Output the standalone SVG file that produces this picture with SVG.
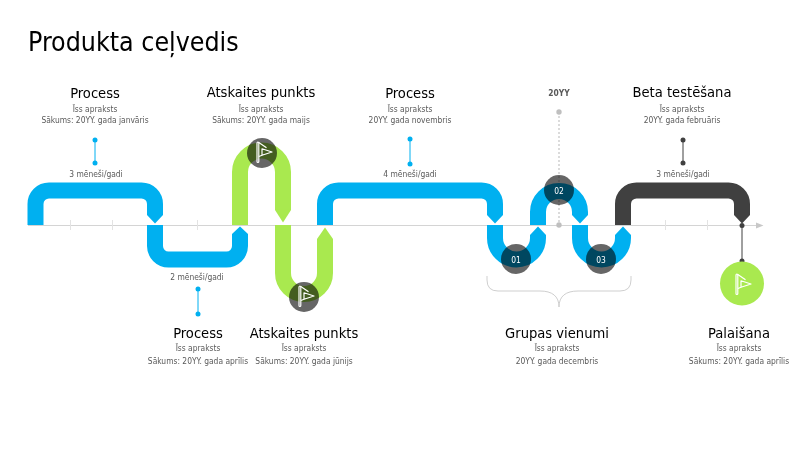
<svg xmlns="http://www.w3.org/2000/svg" width="796" height="450" viewBox="0 0 796 450">
<style>
text{font-family:"DejaVu Sans Condensed","DejaVu Sans",sans-serif;font-stretch:condensed;text-anchor:middle;fill:#595959;font-size:8.400px}
.t{fill:#000;font-size:26.500px;text-anchor:start}
.h{fill:#000;font-size:14.600px}
.y{font-weight:bold}
.n{fill:#fff;font-size:8.400px}
.r{fill:none;stroke-width:16}
.b{stroke:#00b0f0}.g{stroke:#a9e94f}.d{stroke:#404040}
.fb{fill:#00b0f0}.fg{fill:#a9e94f}.fd{fill:#404040}
.c{fill:#666;mix-blend-mode:multiply}
.f{fill:none;stroke:#fff;stroke-width:1.200;stroke-linejoin:round}
.tk{stroke:#e3e3e3;stroke-width:1}
</style>
<defs>
<g id="flag"><rect x="-5" y="-10" width="1.800" height="20.500" rx=".9" class="f"/><path class="f" d="M-3.200-9.500 4.500-4.200M-3.200 4.500 1.500 2.700M0-3.200 10 0 0 3.200Z"/></g>
</defs>
<rect width="796" height="450" fill="#fff"/>
<text class="t" x="28" y="51">Produkta ceļvedis</text>
<g id="connectors">
<path d="M28 225.500H756" stroke="#d4d4d4" stroke-width="1.200" fill="none"/>
<path d="M756 222.500 763.500 225.500 756 228.500Z" fill="#c8c8c8"/>
<path class="tk" d="M70.500 220V230M112.500 220V230M197.500 220V230M665.500 220V230M707.500 220V230"/>
<path d="M559 112V225" stroke="#d0d0d0" stroke-width="1.500" stroke-dasharray="2 2" fill="none"/>
<circle cx="559" cy="112" r="2.700" fill="#bfbfbf"/><circle cx="559" cy="225" r="2.700" fill="#bfbfbf"/>
<path d="M95 140V163" stroke="#00b0f0"/><circle cx="95" cy="140" r="2.500" fill="#00b0f0"/><circle cx="95" cy="163" r="2.500" fill="#00b0f0"/>
<path d="M198 289V314" stroke="#00b0f0"/><circle cx="198" cy="289" r="2.500" fill="#00b0f0"/><circle cx="198" cy="314" r="2.500" fill="#00b0f0"/>
<path d="M410 139V164" stroke="#00b0f0"/><circle cx="410" cy="139" r="2.500" fill="#00b0f0"/><circle cx="410" cy="164" r="2.500" fill="#00b0f0"/>
<path d="M683 140V163" stroke="#404040"/><circle cx="683" cy="140" r="2.500" fill="#404040"/><circle cx="683" cy="163" r="2.500" fill="#404040"/>
<path d="M487 276V280Q487 291 498 291H540C552 291 559 296 559 307C559 296 566 291 578 291H620Q631 291 631 280V276" fill="none" stroke="#cfcfcf"/>
</g>
<g id="ribbons">
<path class="r b" d="M35.500 225V204A13.500 13.500 0 0 1 49 190.500H141.500A13.500 13.500 0 0 1 155 204V215"/><path class="fb" d="M147 214.500H163V215L155 223.500 147 215Z"/>
<path class="r b" d="M155 225V246A13.500 13.500 0 0 0 168.500 259.500H226.500A13.500 13.500 0 0 0 240 246V234"/><path class="fb" d="M232 235H248V234L240 226.500 232 234Z"/>
<path class="r g" d="M240 225V172A21.500 21.500 0 0 1 283 172V210"/><path class="fg" d="M275 209.500H291V210L283 222.500 275 210Z"/>
<path class="r g" d="M283 225V273A21 21 0 0 0 325 273V239"/><path class="fg" d="M317 240H333V239L325 227.500 317 239Z"/>
<path class="r b" d="M325 225V204A13.500 13.500 0 0 1 338.500 190.500H481.500A13.500 13.500 0 0 1 495 204V215"/><path class="fb" d="M487 214.500H503V215L495 223.500 487 215Z"/>
<path class="r b" d="M495 225V238A21.500 21.500 0 0 0 538 238V235"/><path class="fb" d="M530 235.500H546V235L538 226.500 530 235Z"/>
<path class="r b" d="M538 225V212A21 21 0 0 1 580 212V215"/><path class="fb" d="M572 214.500H588V215L580 223.500 572 215Z"/>
<path class="r b" d="M580 225V238A21.500 21.500 0 0 0 623 238V235"/><path class="fb" d="M615 235.500H631V235L623 226.500 615 235Z"/>
<path class="r d" d="M623 225V204A13.500 13.500 0 0 1 636.500 190.500H728.500A13.500 13.500 0 0 1 742 204V215"/><path class="fd" d="M734 214.500H750V215L742 223.500 734 215Z"/>
<circle cx="742" cy="225.500" r="2.500" fill="#404040"/><path d="M742 225V262" stroke="#404040"/>
<circle cx="742" cy="261" r="2.500" fill="#404040"/>
</g>
<g id="n1"><text class="h" x="95" y="98">Process</text><text x="95" y="112">Īss apraksts</text><text x="95" y="123">Sākums: 20YY. gada janvāris</text><text x="96" y="177">3 mēneši/gadi</text></g>
<g id="n2"><text x="197" y="280">2 mēneši/gadi</text><text class="h" x="198" y="338">Process</text><text x="198" y="351">Īss apraksts</text><text x="198" y="364">Sākums: 20YY. gada aprīlis</text></g>
<g id="n3"><circle class="c" cx="262" cy="153" r="15"/><use href="#flag" x="262" y="152"/><text class="h" x="261" y="97">Atskaites punkts</text><text x="261" y="112">Īss apraksts</text><text x="261" y="123">Sākums: 20YY. gada maijs</text></g>
<g id="n4"><circle class="c" cx="304" cy="297" r="15"/><use href="#flag" x="304" y="296"/><text class="h" x="304" y="338">Atskaites punkts</text><text x="304" y="351">Īss apraksts</text><text x="304" y="364">Sākums: 20YY. gada jūnijs</text></g>
<g id="n5"><text class="h" x="410" y="98">Process</text><text x="410" y="112">Īss apraksts</text><text x="410" y="123">20YY. gada novembris</text><text x="410" y="177">4 mēneši/gadi</text></g>
<g id="n6"><circle class="c" cx="516" cy="259" r="15"/><text class="n" x="516" y="262.500">01</text></g>
<g id="n7"><circle class="c" cx="559" cy="190" r="15"/><text class="n" x="559" y="193.500">02</text><text class="y" x="559" y="96">20YY</text></g>
<g id="n8"><circle class="c" cx="601" cy="259" r="15"/><text class="n" x="601" y="262.500">03</text></g>
<g id="n9"><text class="h" x="557" y="338">Grupas vienumi</text><text x="557" y="351">Īss apraksts</text><text x="557" y="364">20YY. gada decembris</text></g>
<g id="n10"><text class="h" x="682" y="97">Beta testēšana</text><text x="682" y="112">Īss apraksts</text><text x="682" y="123">20YY. gada februāris</text><text x="683" y="177">3 mēneši/gadi</text></g>
<g id="n11"><circle cx="742" cy="283.500" r="22" fill="#a9e94f"/><use href="#flag" x="741" y="284"/><text class="h" x="739" y="338">Palaišana</text><text x="739" y="351">Īss apraksts</text><text x="739" y="364">Sākums: 20YY. gada aprīlis</text></g>
</svg>
